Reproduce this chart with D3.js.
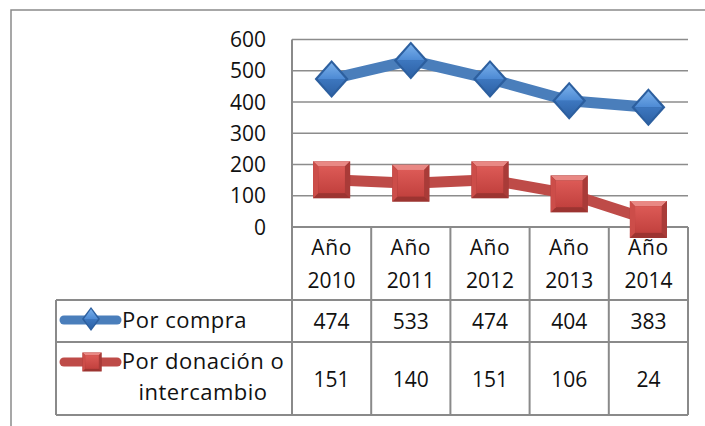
<!DOCTYPE html>
<meta charset="utf-8">
<script src="https://cdn.jsdelivr.net/npm/d3@7"></script>
<style>
body { margin: 0; background: #fff; }
text { font-family: "Open Sans", Lato, sans-serif; fill: #111; }
</style>
<body>
<script>

var years = ["2010", "2011", "2012", "2013", "2014"];
var compra = [474, 533, 474, 404, 383];
var donacion = [151, 140, 151, 106, 24];
var yTicks = [0, 100, 200, 300, 400, 500, 600];

var width = 705, height = 426;
var fontSize = 21;

var svg = d3.select("body").append("svg")
    .attr("width", width)
    .attr("height", height);

svg.append("rect").attr("width", width).attr("height", height).attr("fill", "#fff");

// outer frame (only top and left edges visible)
svg.append("path")
    .attr("d", "M11," + height + "V10H" + width)
    .attr("fill", "none")
    .attr("stroke", "#8a8a8a")
    .attr("stroke-width", 1.5);

var x = d3.scaleBand().domain(years).range([292, 688]);
var y = d3.scaleLinear().domain([0, 600]).range([227, 39.5]);

// gridlines
svg.append("g")
    .selectAll("line")
    .data(yTicks.filter(function(d) { return d > 0; }))
    .enter().append("line")
    .attr("x1", 292).attr("x2", 688)
    .attr("y1", function(d) { return y(d); })
    .attr("y2", function(d) { return y(d); })
    .attr("stroke", "#8c8c8c")
    .attr("stroke-width", 1.5);

// y labels
svg.append("g")
    .selectAll("text")
    .data(yTicks)
    .enter().append("text")
    .attr("x", 266)
    .attr("y", function(d) { return y(d); })
    .attr("dy", "0.36em")
    .attr("text-anchor", "end")
    .attr("font-size", fontSize)
    .text(function(d) { return d; });

// data table
var rowTop = 227, row1 = 300, row2 = 342, rowEnd = 415, legLeft = 56;
var grid = svg.append("g").attr("stroke", "#8a8a8a").attr("stroke-width", 2);
grid.append("line").attr("x1", 292).attr("x2", 688).attr("y1", rowTop).attr("y2", rowTop);
[row1, row2, rowEnd].forEach(function(r) {
  grid.append("line").attr("x1", legLeft).attr("x2", 688).attr("y1", r).attr("y2", r);
});
grid.append("line").attr("x1", legLeft).attr("x2", legLeft).attr("y1", row1).attr("y2", rowEnd);
grid.append("line").attr("x1", 292).attr("x2", 292).attr("y1", y(600)).attr("y2", rowEnd);
years.forEach(function(yr) {
  var xr = x(yr) + x.bandwidth();
  grid.append("line").attr("x1", xr).attr("x2", xr).attr("y1", rowTop).attr("y2", rowEnd);
});

var head = svg.append("g").attr("font-size", fontSize).attr("text-anchor", "middle");
years.forEach(function(yr) {
  var cx = x(yr) + x.bandwidth() / 2;
  head.append("text").attr("x", cx).attr("y", 255).attr("letter-spacing", 0.6).text("Año");
  head.append("text").attr("x", cx).attr("y", 288).text(yr);
});

var vals = svg.append("g").attr("font-size", fontSize).attr("text-anchor", "middle");
years.forEach(function(yr, i) {
  var cx = x(yr) + x.bandwidth() / 2;
  vals.append("text").attr("x", cx).attr("y", 329).text(compra[i]);
  vals.append("text").attr("x", cx).attr("y", 387).text(donacion[i]);
});

// gradients for markers
var defs = svg.append("defs");
function grad(id, c1, c2) {
  var g = defs.append("linearGradient").attr("id", id)
      .attr("x1", 0).attr("y1", 0).attr("x2", 0).attr("y2", 1);
  g.append("stop").attr("offset", "0%").attr("stop-color", c1);
  g.append("stop").attr("offset", "100%").attr("stop-color", c2);
}
grad("blueTop", "#79afea", "#4d8ad4");
grad("blueBot", "#3d77bf", "#2e62a6");
grad("redFace", "#dc5a56", "#c2413e");

function diamond(g, cx, cy, hw, hh) {
  var b = Math.max(2, hw * 0.18);
  g.append("path")
      .attr("d", "M" + cx + "," + (cy - hh) + "L" + (cx + hw) + "," + cy + "L" + cx + "," + (cy + hh) + "L" + (cx - hw) + "," + cy + "Z")
      .attr("fill", "#2c5f9f");
  g.append("path")
      .attr("d", "M" + cx + "," + (cy - hh + b) + "L" + (cx + hw - b) + "," + cy + "L" + (cx - hw + b) + "," + cy + "Z")
      .attr("fill", "url(#blueTop)");
  g.append("path")
      .attr("d", "M" + (cx - hw + b) + "," + cy + "L" + (cx + hw - b) + "," + cy + "L" + cx + "," + (cy + hh - b) + "Z")
      .attr("fill", "url(#blueBot)");
}

function square(g, cx, cy, h) {
  var b = Math.max(2, h * 0.14), o = h / 2, i = o - b;
  g.append("rect").attr("x", cx - o).attr("y", cy - o).attr("width", h).attr("height", h).attr("fill", "#9c3431");
  g.append("path")
      .attr("d", "M" + (cx - o) + "," + (cy - o) + "H" + (cx + o) + "L" + (cx + i) + "," + (cy - i) + "H" + (cx - i) + "Z")
      .attr("fill", "#e98884");
  g.append("path")
      .attr("d", "M" + (cx - o) + "," + (cy - o) + "L" + (cx - i) + "," + (cy - i) + "V" + (cy + i) + "L" + (cx - o) + "," + (cy + o) + "Z")
      .attr("fill", "#cc4d49");
  g.append("path")
      .attr("d", "M" + (cx + o) + "," + (cy - o) + "L" + (cx + i) + "," + (cy - i) + "V" + (cy + i) + "L" + (cx + o) + "," + (cy + o) + "Z")
      .attr("fill", "#a93b38");
  g.append("rect").attr("x", cx - i).attr("y", cy - i).attr("width", 2 * i).attr("height", 2 * i).attr("fill", "url(#redFace)");
}

// series lines
var cxOf = function(i) { return x(years[i]) + x.bandwidth() / 2; };
var line = d3.line().x(function(d, i) { return cxOf(i); }).y(function(d) { return y(d); });

svg.append("path").datum(compra).attr("d", line)
    .attr("fill", "none").attr("stroke", "#4a7ebb").attr("stroke-width", 11)
    .attr("stroke-linejoin", "round");
svg.append("path").datum(donacion).attr("d", line)
    .attr("fill", "none").attr("stroke", "#be4b48").attr("stroke-width", 11)
    .attr("stroke-linejoin", "round");

var mk = svg.append("g");
compra.forEach(function(v, i) { diamond(mk, cxOf(i), y(v), 17, 19); });
donacion.forEach(function(v, i) { square(mk, cxOf(i), y(v), 37); });

// legend keys
var leg = svg.append("g");
leg.append("line").attr("x1", 64).attr("x2", 117).attr("y1", 320).attr("y2", 320)
    .attr("stroke", "#4a7ebb").attr("stroke-width", 9).attr("stroke-linecap", "round");
diamond(leg, 91, 319, 9, 12);
leg.append("line").attr("x1", 64).attr("x2", 117).attr("y1", 362).attr("y2", 362)
    .attr("stroke", "#be4b48").attr("stroke-width", 9).attr("stroke-linecap", "round");
square(leg, 92, 362, 19);

var legText = leg.append("g").attr("font-size", 22).attr("letter-spacing", 0.5);
legText.append("text").attr("x", 122).attr("y", 328).text("Por compra");
legText.append("text").attr("x", 203).attr("y", 369).attr("text-anchor", "middle").text("Por donación o");
legText.append("text").attr("x", 203).attr("y", 400).attr("text-anchor", "middle").text("intercambio");

</script>
</body>
